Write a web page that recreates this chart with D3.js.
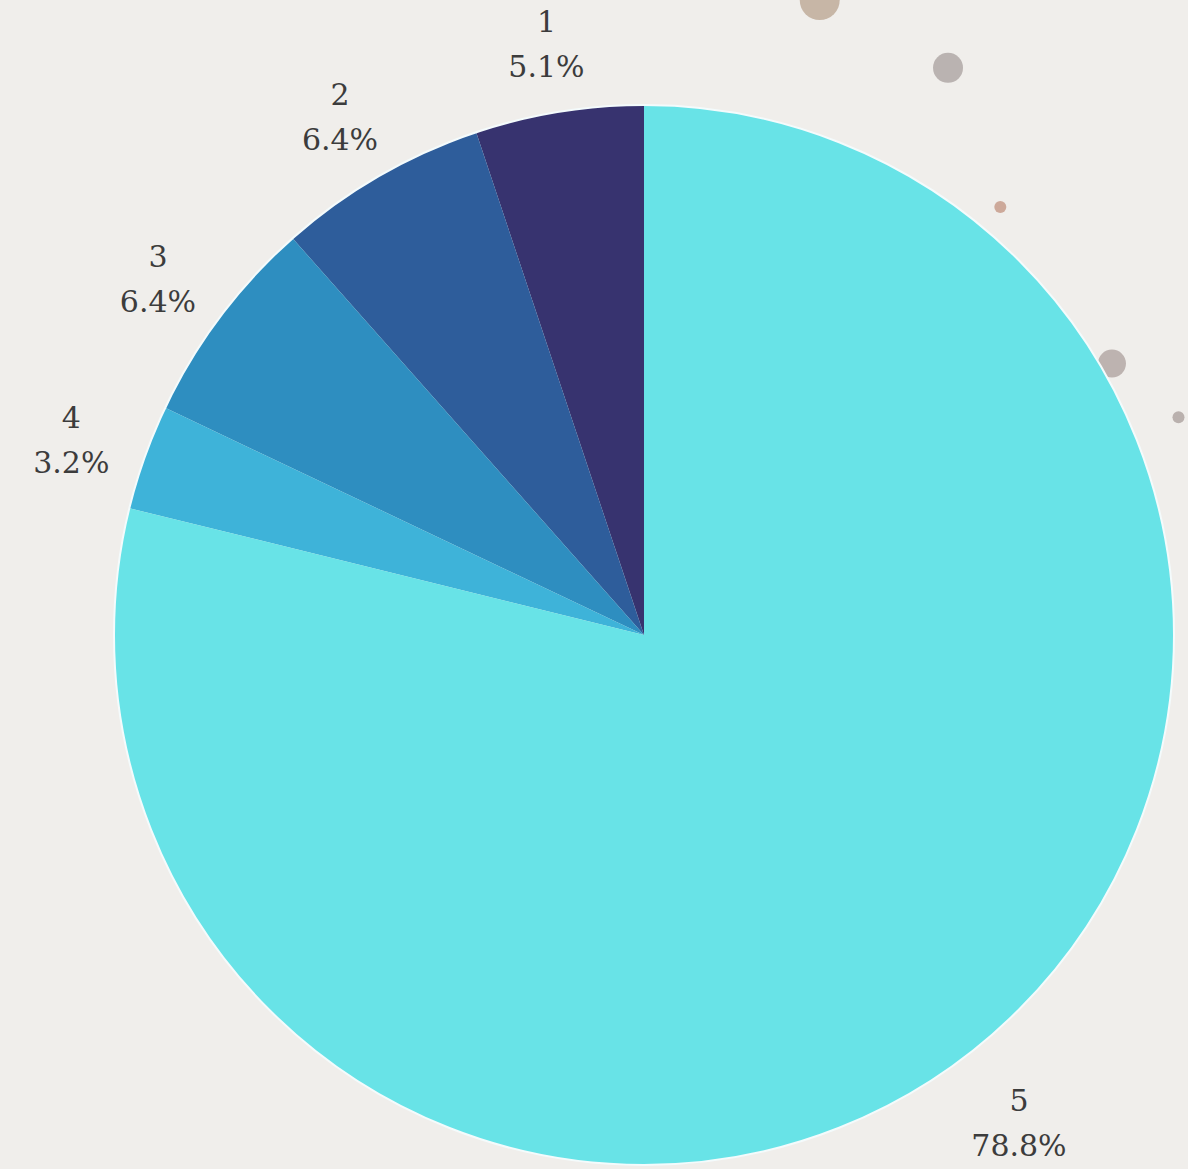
<!DOCTYPE html>
<html lang="en">
<head>
<meta charset="UTF-8">
<title>Pie</title>
<script src="https://d3js.org/d3.v7.min.js"></script>
<style>
  html, body { margin: 0; padding: 0; background: #f0eeeb; overflow: hidden; }
  svg { display: block; }
  text.label { font-family: "DejaVu Serif", "Liberation Serif", serif; }
</style>
</head>
<body>
<div id="chart"></div>
<script>
    // slice data (counts)
    var categories = ["1", "2", "3", "4", "5"];
    var counts = [8, 10, 10, 5, 123];
    var sliceColors = ["#37336f", "#2e5d9b", "#2e8ec0", "#3eb3d9", "#68e3e7"];

    // faint decorative dots in the background (fractions of the page)
    var dotX = [0.690, 0.798, 0.842, 0.936, 0.992];
    var dotY = [0.000, 0.058, 0.177, 0.311, 0.357];
    var dotR = [20, 15, 6, 14, 6];
    var dotColors = ["#c7b6a6", "#bab3b1", "#cda99a", "#bdb3b0", "#bab1ae"];

    var width = 1188, height = 1169;
    var cx = 644, cy = 635, radius = 530, labelRadius = 608;

    var svg = d3.select("#chart").append("svg")
        .attr("width", width)
        .attr("height", height);

    var x = d3.scaleLinear().domain([0, 1]).range([0, width]);
    var y = d3.scaleLinear().domain([0, 1]).range([0, height]);

    svg.selectAll("circle.dot")
        .data(d3.range(dotX.length))
        .join("circle")
        .attr("class", "dot")
        .attr("cx", i => x(dotX[i]))
        .attr("cy", i => y(dotY[i]))
        .attr("r", i => dotR[i])
        .attr("fill", i => dotColors[i]);

    var total = d3.sum(counts);
    var data = categories.map((c, i) => ({ name: c, value: counts[i], color: sliceColors[i] }));

    // counter-clockwise from 12 o'clock
    var pie = d3.pie()
        .value(d => d.value)
        .sort(null)
        .startAngle(0)
        .endAngle(-2 * Math.PI);

    var arc = d3.arc().innerRadius(0).outerRadius(radius);
    var labelArc = d3.arc().innerRadius(labelRadius).outerRadius(labelRadius);

    var g = svg.append("g").attr("transform", "translate(" + cx + "," + cy + ")");

    g.selectAll("path.slice")
        .data(pie(data))
        .join("path")
        .attr("class", "slice")
        .attr("d", arc)
        .attr("fill", d => d.data.color);

    // thin light rim
    g.append("circle")
        .attr("r", radius)
        .attr("fill", "none")
        .attr("stroke", "#f4fbfc")
        .attr("stroke-width", 2);

    var labels = g.selectAll("text.label")
        .data(pie(data))
        .join("text")
        .attr("class", "label")
        .attr("text-anchor", "middle")
        .attr("font-size", 30)
        .attr("fill", "#3c3c3c")
        .attr("transform", d => "translate(" + labelArc.centroid(d) + ")");

    labels.append("tspan")
        .attr("x", 0)
        .attr("y", -3)
        .text(d => d.data.name);

    labels.append("tspan")
        .attr("x", 0)
        .attr("y", 42)
        .text(d => (d.data.value / total * 100).toFixed(1) + "%");
</script>
</body>
</html>
